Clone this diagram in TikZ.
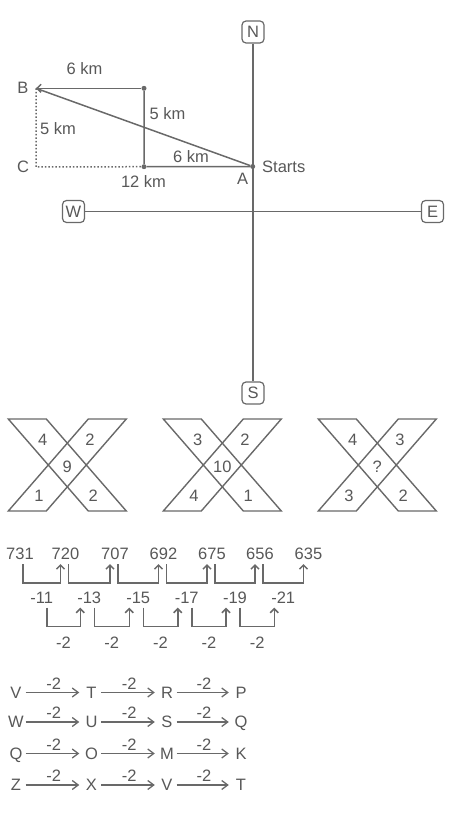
\documentclass[tikz,border=0pt]{standalone}
\usepackage{fontspec}
\setmainfont{Liberation Sans}
\usepackage{tikz}
\usetikzlibrary{arrows.meta, positioning, calc}
\definecolor{LineGray}{RGB}{105,105,105}
\definecolor{TextGray}{RGB}{88,88,88}

\tikzset{
  txt/.style={text=TextGray, inner sep=0pt, text height=11.8pt, text depth=0pt},
  letter/.style={txt, minimum width=16pt},
  dirbox/.style={draw=LineGray, line width=1.2pt, rounded corners=4pt,
                 minimum size=22pt, inner sep=0pt, text=TextGray},
  ln/.style={draw=LineGray, line width=1.5pt},
  arr/.style={ln, -{Straight Barb[length=4pt, width=8pt]}},
  bigarr/.style={ln, line width=1.3pt, -{Straight Barb[length=6pt, width=9pt]}},
  dot/.style={circle, fill=LineGray, inner sep=0pt, minimum size=5pt},
}

\begin{document}
\begin{tikzpicture}[x=1pt, y=-1pt, font=\fontsize{16.5}{19}\selectfont]
\useasboundingbox (0,0) rectangle (453,813);

% Compass
\node[dirbox] (N) at (253,32) {N};
\node[dirbox] (S) at (253,393) {S};
\node[dirbox] (W) at (73.5,211.5) {W};
\node[dirbox] (E) at (432.5,211.5) {E};
\draw[ln] (N) -- (S);
\draw[ln] (W) -- (E);

% Walk from A
\node[dot] (A) at (252.7,166.5) {};
\node[dot] (P) at (144,88.3) {};
\node[dot] (Q) at (144,166.7) {};
\coordinate (B) at (36,88.3);
\coordinate (C) at (36,167);
\draw[ln] (A) -- (Q) -- (P);
\draw[arr] (P) -- (B);
\draw[ln] (A) -- (B);
\draw[ln, dash pattern=on 1.5pt off 2pt] (B) -- (C) -- (Q);

\node[txt] (Blbl) at (23,88) {B};
\node[txt] (Clbl) at (23,167) {C};
\node[txt] (Albl) at (242.5,178.5) {A};
\node[txt, anchor=west] (start) at (262,166.5) {Starts};
\node[txt] (km1) at (84.5,68.5) {6 km};
\node[txt] (km2) at (167.5,113.5) {5 km};
\node[txt] (km3) at (58,129) {5 km};
\node[txt] (km4) at (191,157) {6 km};
\node[txt] (km5) at (143.5,182) {12 km};

% Helper macro: draw one X figure
% #1=name, #2=left x, #3..#7=top left, top right, centre, bottom left, bottom right
\newcommand{\crossfig}[7]{%
  \draw[ln, line width=1.4pt] (#2,419) -- ++(38,0) -- ++(80,92) -- ++(-38,0) -- cycle;%
  \draw[ln, line width=1.4pt] (#2+118,419) -- ++(-38,0) -- ++(-80,92) -- ++(38,0) -- cycle;%
  \node[txt] (#1tl) at (#2+34.5,440) {#3};%
  \node[txt] (#1tr) at (#2+81.7,440) {#4};%
  \node[txt] (#1c)  at (#2+59,466.5) {#5};%
  \node[txt] (#1bl) at (#2+30.7,495.5) {#6};%
  \node[txt] (#1br) at (#2+85,495.5) {#7};%
}

\crossfig{xa}{8.3}{4}{2}{9}{1}{2}
\crossfig{xb}{163.3}{3}{2}{10}{4}{1}
\crossfig{xc}{318.3}{4}{3}{?}{3}{2}

% Number series
\foreach \x/\v [count=\i] in {20/731, 65.5/720, 115/707, 163.5/692, 212/675, 260/656, 308.5/635}{
  \node[txt] (n\i) at (\x,554) {\v};
}
\foreach \i/\d in {1/-11, 2/-13, 3/-15, 4/-17, 5/-19, 6/-21}{
  \pgfmathtruncatemacro\j{\i+1}
  \draw[arr] ([xshift=3pt,yshift=-4pt]n\i.south) -- ++(0,19)
    -| node[txt, pos=0.25, below=8pt] (d\i) {\d} ([xshift=-5pt,yshift=-4pt]n\j.south);
}
\foreach \i in {1,...,5}{
  \pgfmathtruncatemacro\j{\i+1}
  \draw[arr] ([xshift=5pt,yshift=-3.3pt]d\i.south) -- ++(0,19)
    -| node[txt, pos=0.25, below=9pt] (s\i) {-2} ([xshift=-9pt,yshift=-3.3pt]d\j.south);
}

% Letter rows
\foreach \y/\la/\lb/\lc/\ld [count=\k] in {692.5/V/T/R/P, 722/W/U/S/Q, 753.5/Q/O/M/K, 785/Z/X/V/T}{
  \node[letter] (r\k c1) at (16,\y) {\la};
  \node[letter] (r\k c2) at (91.5,\y) {\lb};
  \node[letter] (r\k c3) at (167,\y) {\lc};
  \node[letter] (r\k c4) at (241,\y) {\ld};
  \foreach \p/\q in {1/2, 2/3, 3/4}
    \draw[bigarr, shorten <=1.5pt, shorten >=4pt] (r\k c\p) --
      node[txt, above=2.5pt] (r\k m\p) {-2} (r\k c\q);
}

\end{tikzpicture}
\end{document}
